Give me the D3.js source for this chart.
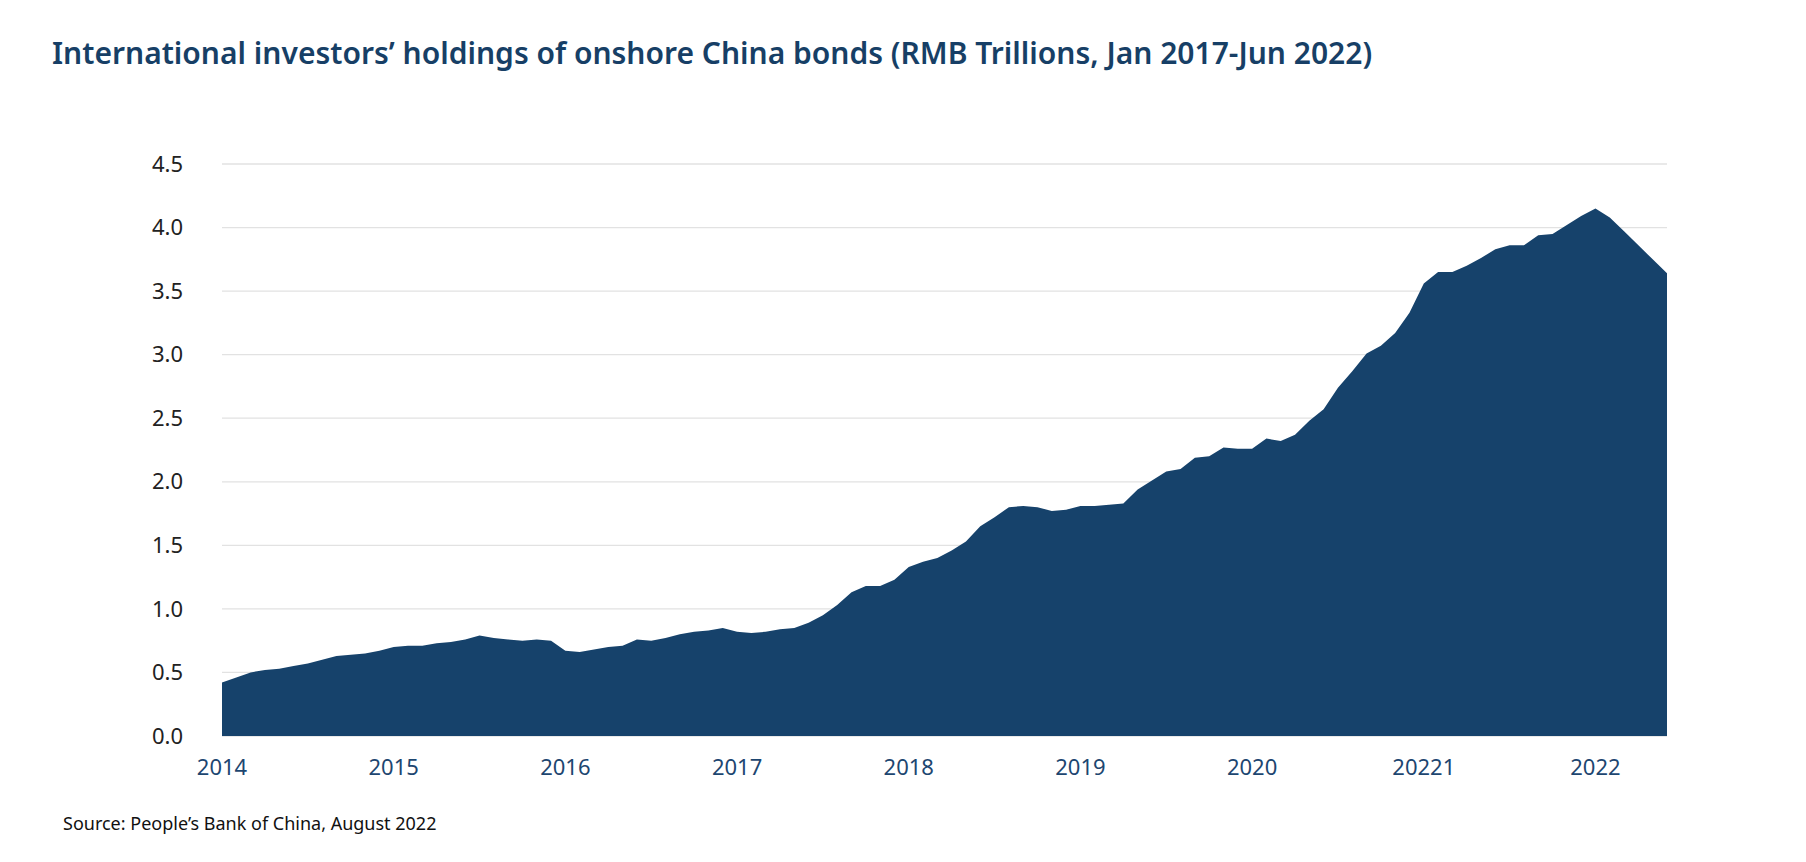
<!DOCTYPE html>
<meta charset="utf-8">
<head>
<style>
  body { margin: 0; background: #fff; }
  text { font-family: "Noto Sans", sans-serif; }
</style>
<script src="https://d3js.org/d3.v7.min.js"></script>
</head>
<body>
<script>
// monthly values, Jan 2014 - Jun 2022 (RMB trillions)
var values = [
  .42,.46,.50,.52,.53,.55,.57,.60,.63,.64,.65,.67,
  .70,.71,.71,.73,.74,.76,.79,.77,.76,.75,.76,.75,
  .67,.66,.68,.70,.71,.76,.75,.77,.80,.82,.83,.85,
  .82,.81,.82,.84,.85,.89,.95,1.03,1.13,1.18,1.18,1.23,
  1.33,1.37,1.40,1.46,1.53,1.65,1.72,1.80,1.81,1.80,1.77,1.78,
  1.81,1.81,1.82,1.83,1.94,2.01,2.08,2.10,2.19,2.20,2.27,2.26,
  2.26,2.34,2.32,2.37,2.48,2.57,2.74,2.87,3.01,3.07,3.17,3.33,
  3.56,3.65,3.65,3.70,3.76,3.83,3.86,3.86,3.94,3.95,4.02,4.09,
  4.15,4.08,3.97,3.86,3.75,3.64
];
var yearTicks = [2014,2015,2016,2017,2018,2019,2020,2021,2022];
var yearLabels = ["2014","2015","2016","2017","2018","2019","2020","20221","2022"];
var yTicks = [0,0.5,1,1.5,2,2.5,3,3.5,4,4.5];

var W = 1806, H = 862;
var margin = {top: 164, left: 222, right: 139, bottom: 126};

var svg = d3.select("body").append("svg").attr("width", W).attr("height", H);

var x = d3.scaleLinear().domain([2014, 2014 + 101/12]).range([margin.left, W - margin.right]);
var y = d3.scaleLinear().domain([0, 4.5]).range([H - margin.bottom, margin.top]);

svg.append("text").attr("x", 52).attr("y", 64)
  .attr("fill", "#173f66").attr("font-size", 30).attr("font-weight", 600)
  .text("International investors’ holdings of onshore China bonds (RMB Trillions, Jan 2017-Jun 2022)");

svg.append("g").selectAll("line").data(yTicks).enter().append("line")
  .attr("x1", margin.left).attr("x2", W - margin.right)
  .attr("y1", d => y(d)).attr("y2", d => y(d))
  .attr("stroke", "#e2e2e2").attr("stroke-width", 1.3);

svg.append("g").selectAll("text").data(yTicks).enter().append("text")
  .attr("x", 183).attr("y", d => y(d)).attr("dy", "0.35em")
  .attr("text-anchor", "end").attr("font-size", 22).attr("fill", "#222")
  .text(d => d3.format(".1f")(d));

var area = d3.area()
  .x((d, i) => x(2014 + i/12))
  .y0(y(0)).y1(d => y(d));

svg.append("path").datum(values).attr("d", area).attr("fill", "#16426b");

svg.append("g").selectAll("text").data(yearTicks).enter().append("text")
  .attr("x", d => x(d)).attr("y", H - margin.bottom + 39)
  .attr("text-anchor", "middle").attr("font-size", 22).attr("fill", "#1d4670")
  .text((d, i) => yearLabels[i]);

svg.append("text").attr("x", 63).attr("y", 830)
  .attr("font-size", 18).attr("fill", "#111")
  .text("Source: People’s Bank of China, August 2022");
</script>
</body>
